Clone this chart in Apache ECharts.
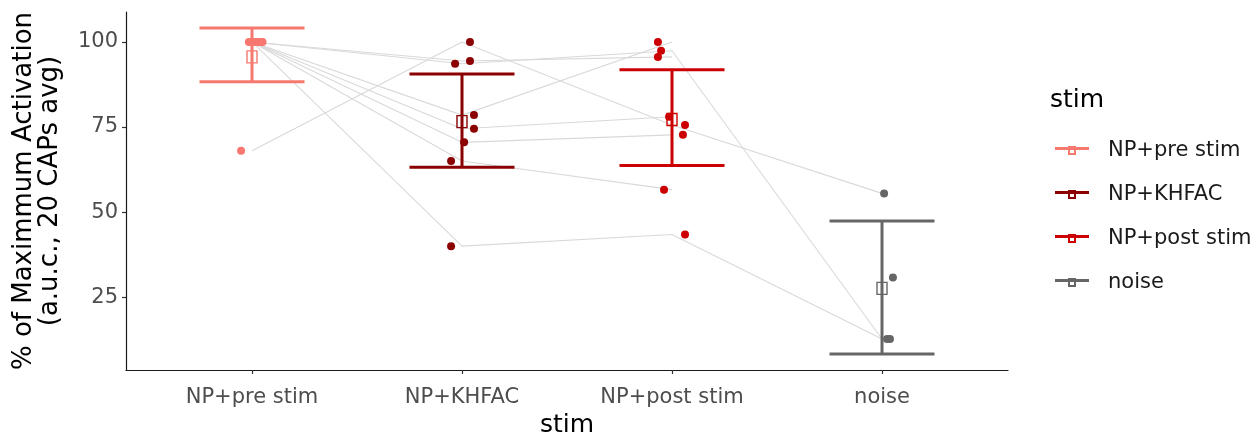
<!DOCTYPE html>
<html lang="en" style="height: 100%">
<head>
  <meta charset="utf-8">
  <script type="text/javascript" src="https://cdn.jsdelivr.net/npm/echarts@6/dist/echarts.min.js"></script>
</head>
<body style="height: 100%; margin: 0; background: #fff">
  <div id="container" style="width: 1255px; height: 440px"></div>
  <script type="text/javascript">
    // conditions on the x axis
    var categories = ['NP+pre stim', 'NP+KHFAC', 'NP+post stim', 'noise'];

    // per-subject values (index = subject), null = no measurement
    var preVals   = [100, 100, 100, 68, 100, 100, 100, 100, null];
    var khfacVals = [94.4, 93.6, 78.5, 100, 74.5, 70.5, 65, 40, null];
    var postVals  = [95.6, 97.4, 100, 75.6, 78, 72.7, 56.6, 43.4, null];
    var noiseVals = [null, 12.7, null, 55.5, null, null, null, 12.7, 30.8];

    // horizontal jitter of the points (in category units)
    var preJit   = [-0.015, 0.0, 0.01, -0.052, 0.025, 0.035, 0.045, 0.05, 0];
    var khfacJit = [0.038, -0.033, 0.057, 0.038, 0.057, 0.01, -0.052, -0.052, 0];
    var postJit  = [-0.067, -0.052, -0.067, 0.062, -0.014, 0.052, -0.038, 0.062, 0];
    var noiseJit = [0, 0.024, 0, 0.01, 0, 0, 0, 0.038, 0.052];

    // mean and error bar limits per condition
    var means = [95.6, 76.6, 77.2, 27.6];
    var lower = [88.3, 63.2, 63.7, 8.3];
    var upper = [104.1, 90.6, 91.8, 47.4];

    var colors = ['#F7786F', '#8B0000', '#CC0000', '#666666'];
    var font = 'DejaVu Sans';

    var allVals = [preVals, khfacVals, postVals, noiseVals];
    var allJit = [preJit, khfacJit, postJit, noiseJit];

    var dom = document.getElementById('container');
    var myChart = echarts.init(dom, null, { renderer: 'canvas' });

    var series = [];

    // grey subject lines
    for (var s = 0; s < preVals.length; s++) {
      series.push({
        type: 'line',
        silent: true,
        symbol: 'none',
        z: 1,
        lineStyle: { color: '#d9d9d9', width: 1.1 },
        data: allVals.map(function (vals, k) {
          return [k + 1, vals[s]];
        })
      });
    }

    // jittered points
    allVals.forEach(function (vals, k) {
      var pts = [];
      vals.forEach(function (v, i) {
        if (v !== null) pts.push([k + 1 + allJit[k][i], v]);
      });
      series.push({
        name: 'pts ' + categories[k],
        type: 'scatter',
        symbol: 'circle',
        symbolSize: 8,
        z: 2,
        itemStyle: { color: colors[k], opacity: 1 },
        data: pts
      });
    });

    // error bars + mean squares
    categories.forEach(function (cat, k) {
      series.push({
        name: cat,
        type: 'custom',
        z: 3,
        itemStyle: { color: colors[k] },
        encode: { x: 0, y: [1, 2, 3] },
        data: [[k + 1, means[k], lower[k], upper[k]]],
        renderItem: function (params, api) {
          var x = api.value(0);
          var top = api.coord([x, api.value(3)]);
          var bot = api.coord([x, api.value(2)]);
          var mid = api.coord([x, api.value(1)]);
          var half = api.size([0.25, 0])[0];
          var st = { stroke: colors[k], lineWidth: 3 };
          return {
            type: 'group',
            children: [
              { type: 'line', shape: { x1: top[0], y1: top[1], x2: bot[0], y2: bot[1] }, style: st },
              { type: 'line', shape: { x1: top[0] - half, y1: top[1], x2: top[0] + half, y2: top[1] }, style: st },
              { type: 'line', shape: { x1: bot[0] - half, y1: bot[1], x2: bot[0] + half, y2: bot[1] }, style: st },
              { type: 'rect', shape: { x: mid[0] - 5, y: mid[1] - 6, width: 10, height: 12 },
                style: { fill: 'none', stroke: colors[k], lineWidth: 1.4 } }
            ]
          };
        }
      });
    });

    var legendIcon = 'path://M0,2H34V5H0Z M13,1H21V10H13Z M15,5V8H19V5Z';

    var option = {
      animation: false,
      backgroundColor: '#ffffff',
      textStyle: { fontFamily: font },
      title: {
        text: 'stim',
        left: 1050,
        top: 88,
        padding: 0,
        textStyle: { fontFamily: font, fontSize: 25, fontWeight: 'normal', color: '#000' }
      },
      legend: {
        orient: 'vertical',
        left: 1055,
        top: 140,
        itemWidth: 34,
        itemHeight: 10,
        itemGap: 23,
        padding: 0,
        selectedMode: false,
        textStyle: { fontFamily: font, fontSize: 21, color: '#1a1a1a', padding: [0, 0, 0, 14] },
        data: categories.map(function (c) {
          return { name: c, icon: legendIcon };
        })
      },
      grid: {
        left: 126,
        right: 247,
        top: 12,
        bottom: 70,
        containLabel: false,
        outerBoundsMode: 'none'
      },
      xAxis: {
        type: 'value',
        min: 0.4,
        max: 4.6,
        name: 'stim',
        nameLocation: 'middle',
        nameGap: 43,
        nameTextStyle: { fontFamily: font, fontSize: 25, color: '#000' },
        splitLine: { show: false },
        axisLine: { lineStyle: { color: '#1a1a1a', width: 1.2 } },
        axisTick: { length: 4, customValues: [1, 2, 3, 4], lineStyle: { color: '#333', width: 1.2 } },
        axisLabel: {
          customValues: [1, 2, 3, 4],
          margin: 17,
          fontFamily: font,
          fontSize: 21,
          color: '#4d4d4d',
          formatter: function (v) {
            return categories[Math.round(v) - 1];
          }
        }
      },
      yAxis: {
        type: 'value',
        min: 3.6,
        max: 108.8,
        name: '% of Maximmum Activation\n(a.u.c., 20 CAPs avg)',
        nameLocation: 'middle',
        nameRotate: 90,
        nameGap: 63,
        nameTextStyle: { fontFamily: font, fontSize: 26, color: '#000', lineHeight: 26 },
        splitLine: { show: false },
        axisLine: { show: true, lineStyle: { color: '#1a1a1a', width: 1.2 } },
        axisTick: { show: true, length: 4, customValues: [25, 50, 75, 100], lineStyle: { color: '#333', width: 1.2 } },
        axisLabel: {
          customValues: [25, 50, 75, 100],
          margin: 8,
          fontFamily: font,
          fontSize: 21,
          color: '#4d4d4d'
        }
      },
      series: series
    };

    myChart.setOption(option);
  </script>
</body>
</html>
